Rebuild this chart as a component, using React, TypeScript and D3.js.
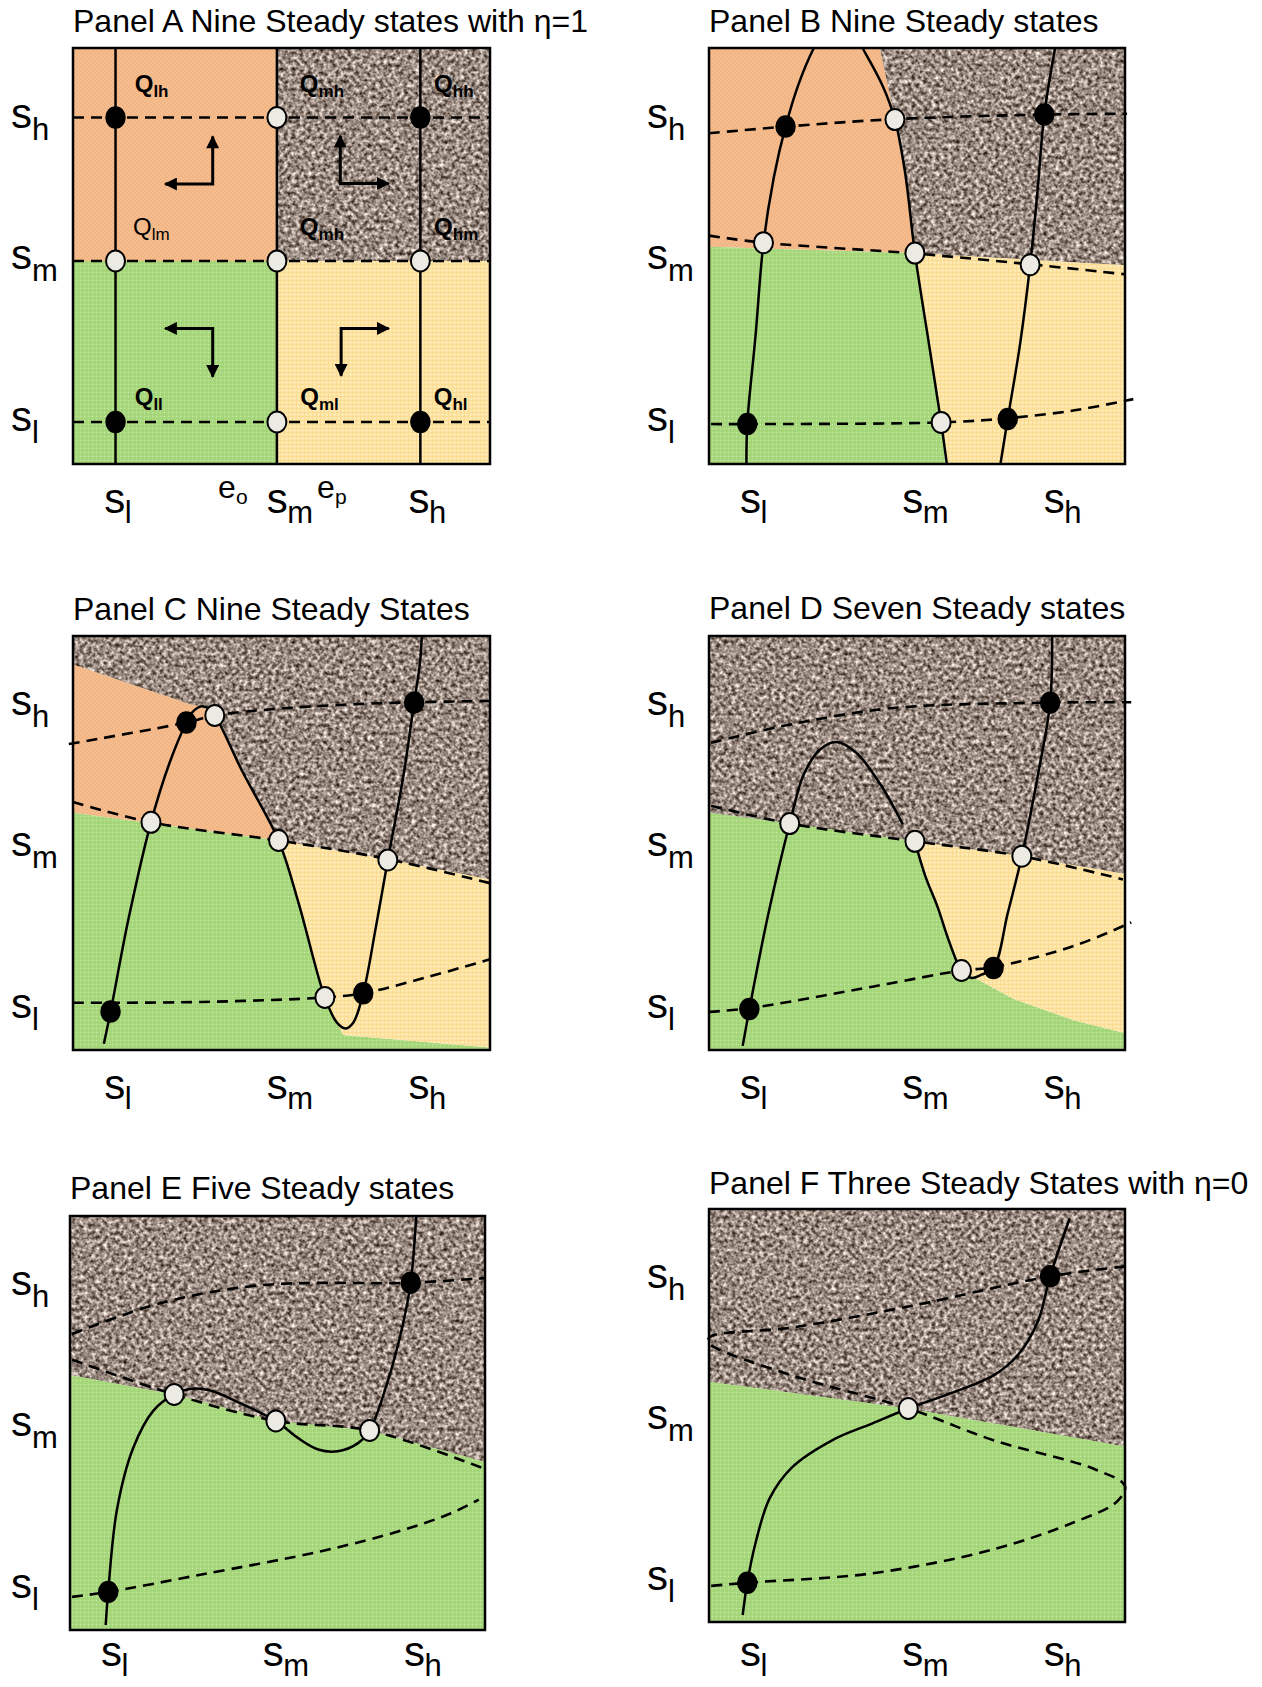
import React from "react";
import * as d3 from "d3";

type P = [number, number];

// ---------- text ----------
const panelTitles = [
  "Panel A Nine Steady states with η=1",
  "Panel B Nine Steady states",
  "Panel C Nine Steady States",
  "Panel D Seven Steady states",
  "Panel E Five Steady states",
  "Panel F Three Steady States with η=0",
];
const tickValues = [10, 49, 83];
const tickSubs = ["l", "m", "h"];

// ---------- Panel A ----------
const aVert = [10.2, 48.9, 83.3];
const aHoriz = [83.3, 48.8, 10.1];
const aOrange: P[] = [[0, 100], [48.9, 100], [48.9, 48.8], [0, 48.8]];
const aBrown: P[] = [[48.9, 100], [100, 100], [100, 48.8], [48.9, 48.8]];
const aGreen: P[] = [[0, 48.8], [48.9, 48.8], [48.9, 0], [0, 0]];
const aYellow: P[] = [[48.9, 48.8], [100, 48.8], [100, 0], [48.9, 0]];
const aStable: P[] = [[10.2, 83.3], [83.3, 83.3], [10.2, 10.1], [83.3, 10.1]];
const aUnstable: P[] = [[48.9, 83.3], [10.2, 48.8], [48.9, 48.8], [83.3, 48.8], [48.9, 10.1]];
const aQNames = ["lh", "mh", "hh", "lm", "mh", "hm", "ll", "ml", "hl"];
const aQBold = [true, true, true, false, true, true, true, true, true];
const aQPos: P[] = [
  [14.8, 89.5], [54.4, 89.5], [86.6, 89.5],
  [14.4, 55.0], [54.4, 55.0], [86.6, 55.0],
  [14.8, 14.2], [54.5, 14.2], [86.5, 14.2],
];
const aArrows: P[][] = [
  [[22.1, 67.3], [33.5, 67.3], [33.5, 78.7]],
  [[64.1, 78.9], [64.1, 67.4], [75.7, 67.4]],
  [[22.1, 32.6], [33.5, 32.6], [33.5, 21.0]],
  [[75.7, 32.6], [64.3, 32.6], [64.3, 21.2]],
];
const aELabels = ["o", "p"];
const aEPos = [34.8, 58.5];

// ---------- Panel B ----------
const bOrange: P[] = [[0, 100], [41.1, 100], [44.3, 85], [45.8, 77], [47.1, 70.3], [48.4, 60], [49.5, 50.7], [0, 52.2]];
const bBrown: P[] = [[41.1, 100], [100, 100], [100, 47.8], [49.5, 50.7], [48.4, 60], [47.1, 70.3], [45.8, 77], [44.3, 85]];
const bGreen: P[] = [[0, 52.2], [49.5, 50.7], [51.2, 39], [52.9, 28.7], [54.4, 19], [55.8, 10], [56.8, 0], [0, 0]];
const bYellow: P[] = [[49.5, 50.7], [100, 47.8], [100, 0], [57.3, 0], [55.8, 10], [54.4, 19], [52.9, 28.7], [51.2, 39]];
const bCurve1: P[] = [
  [9.0, -1], [9.2, 9.6], [11.2, 31], [13.1, 53.2], [15.6, 69], [18.4, 81.1], [21.6, 91.5], [25.2, 100],
  [31, 110], [36.9, 100], [41.7, 91], [44.7, 82.8], [47.1, 70.3], [49.5, 50.7], [52.9, 28.7], [55.8, 10], [57.3, -1],
];
const bCurve2: P[] = [[83.2, 100], [80.6, 84], [79.0, 66], [77.2, 47.9], [74.8, 29], [71.8, 10.8], [69.9, -1]];
const bDash1: P[] = [[0, 79.5], [18.4, 81.1], [44.7, 82.9], [80.6, 84], [100.5, 84.2]];
const bDash2: P[] = [[0, 54.9], [13.1, 53.2], [49.5, 50.6], [77.2, 48], [100, 45.6]];
const bDash3: P[] = [[0.5, 9.6], [9.2, 9.6], [55.8, 10], [71.8, 11], [87.9, 12.9], [102, 15.6]];
const bStable: P[] = [[18.4, 81.1], [80.6, 84], [9.2, 9.6], [71.8, 10.8]];
const bUnstable: P[] = [[44.7, 82.8], [13.1, 53.2], [49.5, 50.7], [77.2, 47.9], [55.8, 10]];

// ---------- Panel C ----------
const cOrange: P[] = [[0, 93.1], [28.4, 83.4], [30.8, 83], [34.2, 80.4], [40.5, 67.5], [49.3, 50.6], [0, 57.3]];
const cBrown: P[] = [[0, 100], [100, 100], [100, 41.2], [75.5, 46], [49.3, 50.6], [40.5, 67.5], [34.2, 80.4], [30.8, 83], [28.4, 83.4], [0, 93.1]];
const cGreen: P[] = [[0, 57.3], [49.3, 50.6], [54.1, 35.5], [60.4, 12.7], [63.3, 6.6], [64.8, 3.6], [100, 0.6], [100, 0], [0, 0]];
const cYellow: P[] = [[49.3, 50.6], [75.5, 46], [100, 41.2], [100, 0.6], [64.8, 3.6], [63.3, 6.6], [60.4, 12.7], [54.1, 35.5]];
const cCurve: P[] = [
  [7.4, 1.5], [9.0, 9.2], [13.4, 32.1], [18.7, 55], [23.1, 69.2], [27.2, 79.1], [28.7, 81.7], [30.8, 83],
  [32.8, 82.3], [34.2, 80.6], [40.5, 67.5], [49.3, 50.6], [54.1, 35.5], [60.4, 12.7], [63.3, 6.6], [65.3, 5.2],
  [67.2, 6.6], [69.6, 13.7], [72.6, 29.5], [75.5, 45.9], [79.3, 66.6], [81.8, 83.9], [83.2, 93.4], [83.7, 101],
];
const cDash1: P[] = [[-1, 73.9], [27.2, 79.1], [34, 80.8], [50, 82.5], [65, 83.4], [81.8, 84], [100, 84.3]];
const cDash2: P[] = [[0, 59.9], [18.7, 55], [49.3, 50.6], [75.5, 46.1], [100, 40.3]];
const cDash3: P[] = [[0, 11.4], [30.8, 11.6], [60.4, 12.7], [69.6, 13.7], [84.2, 17.4], [100, 21.9]];
const cStable: P[] = [[9.0, 9.3], [27.2, 79.1], [69.6, 13.7], [81.8, 83.9]];
const cUnstable: P[] = [[34, 80.8], [18.7, 55], [49.3, 50.6], [60.4, 12.7], [75.5, 45.9]];

// ---------- Panel D ----------
const dBrown: P[] = [[0, 100], [100, 100], [100, 42.5], [75.2, 46.8], [49.5, 50.4], [19.4, 54.7], [0, 57.3]];
const dGreen: P[] = [[0, 57.3], [19.4, 54.7], [49.5, 50.4], [54.9, 34.7], [60.7, 19.2], [63.6, 17.6], [73.3, 12.3], [87.9, 7.1], [100, 4.1], [100, 0], [0, 0]];
const dYellow: P[] = [[49.5, 50.4], [75.2, 46.8], [100, 42.5], [100, 4.1], [87.9, 7.1], [73.3, 12.3], [63.6, 17.6], [60.7, 19.2], [54.9, 34.7]];
const dCurve1: P[] = [[8.1, 1], [9.7, 9.8], [14.1, 32.1], [19.4, 54.7], [22.8, 66.6], [26.7, 72.6], [30.6, 74.4], [35.4, 71.8], [41.3, 64], [46.6, 54.5]];
const dCurve2: P[] = [
  [49.5, 50.4], [52, 42], [54.9, 34.7], [57.8, 26], [60.7, 19.2], [63.1, 17.4], [65.5, 18.2], [68.4, 19.8],
  [71.8, 33], [75.2, 46.8], [79.1, 66.6], [82, 83.9], [82.5, 101],
];
const dDash1: P[] = [[0.5, 74.2], [19.9, 78.7], [44.2, 82.6], [82, 83.9], [101.5, 84]];
const dDash2: P[] = [[0.5, 59], [19.4, 54.7], [49.5, 50.4], [75.2, 46.8], [99.5, 41.2]];
const dDash3: P[] = [[0, 9.2], [9.7, 10.1], [39.3, 15.3], [60.7, 19.2], [68.4, 20], [87.9, 25.2], [101.5, 30.8]];
const dStable: P[] = [[9.7, 9.9], [68.4, 19.8], [82, 83.9]];
const dUnstable: P[] = [[19.4, 54.7], [49.5, 50.4], [60.7, 19.2], [75.2, 46.8]];

// ---------- Panel E ----------
const eBrown: P[] = [[0, 100], [100, 100], [100, 40.6], [72.2, 48.2], [49.6, 50.5], [25.1, 56.9], [0, 61.6]];
const eGreen: P[] = [[0, 61.6], [25.1, 56.9], [49.6, 50.5], [72.2, 48.2], [100, 40.6], [100, 0], [0, 0]];
const eCurve: P[] = [
  [8.6, 1.2], [9.2, 9.2], [11.3, 29], [15.2, 43.9], [20.1, 53], [25.1, 56.9], [28.8, 58.2], [33.6, 57.9],
  [41.4, 54.6], [49.6, 50.5], [54.9, 46.4], [59.8, 43.6], [64.6, 43.2], [69.5, 45.2], [72.2, 48.2],
  [76.3, 59.2], [80.1, 73.3], [82.1, 83.9], [83.5, 101],
];
const eDash1: P[] = [[0.5, 71.5], [22, 79], [46.2, 83.3], [82.1, 83.9], [100, 85]];
const eDash2: P[] = [[0.5, 65.3], [25.1, 56.9], [49.6, 50.5], [72.2, 48.2], [100, 38.9]];
const eDash3: P[] = [[0.5, 8], [9.2, 9.2], [31.7, 13.4], [60.8, 19.1], [80.1, 24.1], [91.8, 28.2], [98.5, 31.5]];
const eStable: P[] = [[9.2, 9.2], [82.1, 83.9]];
const eUnstable: P[] = [[25.1, 56.9], [49.6, 50.5], [72.2, 48.2]];

// ---------- Panel F ----------
const fBrown: P[] = [[0, 100], [100, 100], [100, 42.5], [47.9, 51.7], [0, 58.2]];
const fGreen: P[] = [[0, 58.2], [47.9, 51.7], [100, 42.5], [100, 0], [0, 0]];
const fCurve: P[] = [
  [8.1, 1.7], [9.2, 9.5], [11.2, 19.2], [14.6, 30], [19.9, 37.4], [29.6, 44], [39.3, 48.1], [47.9, 51.7],
  [58.7, 55.6], [68.4, 59.7], [74.3, 64.7], [79.1, 72.9], [82, 83.7], [86.7, 97.7],
];
const fDash: P[] = [
  [100, 86.1], [82, 83.7], [49, 76.6], [19.9, 71.3], [0.5, 69.2], [-0.3, 68.1], [0.5, 67], [19.9, 59.7],
  [47.9, 51.7], [68.4, 44], [92.7, 37], [100, 32.9], [98, 29.1], [87.9, 24.2], [68.4, 17.6], [39.3, 11.8],
  [9.2, 9.5], [0, 8.7],
];
const fStable: P[] = [[9.2, 9.5], [82, 83.7]];
const fUnstable: P[] = [[47.9, 51.7]];

// ---------- layout ----------
const frames = [
  { x: 73, y: 48, w: 417, h: 416, tx: 73, ty: 32, lx: 11, xl: 502 },
  { x: 709, y: 48, w: 416, h: 416, tx: 709, ty: 32, lx: 647, xl: 502 },
  { x: 73, y: 636, w: 417, h: 414, tx: 73, ty: 620, lx: 11, xl: 1088 },
  { x: 709, y: 636, w: 416, h: 414, tx: 709, ty: 619, lx: 647, xl: 1088 },
  { x: 70, y: 1216, w: 415, h: 414, tx: 70, ty: 1199, lx: 11, xl: 1655 },
  { x: 709, y: 1209, w: 416, h: 413, tx: 709, ty: 1194, lx: 647, xl: 1655 },
];
const FONT = "'Liberation Sans', Arial, Helvetica, sans-serif";
const fills: Record<string, string> = {
  orange: "url(#pOrange)",
  green: "url(#pGreen)",
  yellow: "url(#pYellow)",
};

type Region = { kind: string; pts: P[] };

function Panel(props: {
  idx: number;
  regions: Region[];
  solids: P[][];
  dashes: P[][];
  stable: P[];
  unstable: P[];
  extra?: (x: d3.ScaleLinear<number, number>, y: d3.ScaleLinear<number, number>) => React.ReactNode;
}) {
  const { idx, regions, solids, dashes, stable, unstable, extra } = props;
  const f = frames[idx];
  const x = d3.scaleLinear().domain([0, 100]).range([f.x, f.x + f.w]);
  const y = d3.scaleLinear().domain([0, 100]).range([f.y + f.h, f.y]);
  const curve = d3
    .line<P>()
    .x((d) => x(d[0]))
    .y((d) => y(d[1]))
    .curve(d3.curveCatmullRom.alpha(0.5));
  const poly = d3
    .line<P>()
    .x((d) => x(d[0]))
    .y((d) => y(d[1]))
    .curve(d3.curveLinearClosed);
  const clipId = `clip${idx}`;
  return (
    <g>
      <defs>
        <clipPath id={clipId}>
          <rect x={f.x - 16} y={f.y - 1} width={f.w + 32} height={f.h + 2} />
        </clipPath>
      </defs>
      <text x={f.tx} y={f.ty} fontSize={32} fontFamily={FONT} fill="#000">
        {panelTitles[idx]}
      </text>
      {regions.map((r, i) =>
        r.kind === "brown" ? (
          <g key={i}>
            <path d={poly(r.pts) || ""} fill="#a2968b" />
            <path d={poly(r.pts) || ""} fill="#000" filter="url(#granite)" />
          </g>
        ) : (
          <path key={i} d={poly(r.pts) || ""} fill={fills[r.kind]} />
        )
      )}
      <rect x={f.x} y={f.y} width={f.w} height={f.h} fill="none" stroke="#000" strokeWidth={2.5} />
      <g clipPath={`url(#${clipId})`} fill="none" stroke="#000">
        {dashes.map((d, i) => (
          <path key={"d" + i} d={curve(d) || ""} strokeWidth={2.6} strokeDasharray="11,7" />
        ))}
        {solids.map((d, i) => (
          <path key={"s" + i} d={curve(d) || ""} strokeWidth={2.5} />
        ))}
      </g>
      {extra ? extra(x, y) : null}
      {stable.map((p, i) => (
        <ellipse key={"b" + i} cx={x(p[0])} cy={y(p[1])} rx={9.5} ry={10.5} fill="#000" stroke="#000" strokeWidth={1.5} />
      ))}
      {unstable.map((p, i) => (
        <ellipse key={"w" + i} cx={x(p[0])} cy={y(p[1])} rx={9.5} ry={10.5} fill="#ecebe3" stroke="#000" strokeWidth={2} />
      ))}
      {tickValues.map((v, i) => (
        <g key={"xt" + i} fontFamily={FONT} fill="#000">
          <text x={x(v)} y={f.xl + 11} fontSize={42} textAnchor="middle">s</text>
          <text x={x(v) + 10} y={f.xl + 21} fontSize={31}>{tickSubs[i]}</text>
        </g>
      ))}
      {tickValues.map((v, i) => (
        <g key={"yt" + i} fontFamily={FONT} fill="#000">
          <text x={f.lx} y={y(v) + 9} fontSize={42}>s</text>
          <text x={f.lx + 21} y={y(v) + 21} fontSize={31}>{tickSubs[i]}</text>
        </g>
      ))}
    </g>
  );
}

export default function App() {
  return (
    <svg
      width={1262}
      height={1687}
      viewBox="0 0 1262 1687"
      style={{ position: "absolute", left: 0, top: 0, background: "#fff" }}
    >
      <defs>
        <pattern id="pOrange" patternUnits="userSpaceOnUse" width={4} height={4}>
          <rect width={4} height={4} fill="#f2b585" />
          <rect width={2} height={2} fill="#f5bc8e" />
          <rect x={2} y={2} width={2} height={2} fill="#f5bc8e" />
        </pattern>
        <pattern id="pGreen" patternUnits="userSpaceOnUse" width={4} height={4}>
          <rect width={4} height={4} fill="#a4d679" />
          <rect width={4} height={1} fill="#abda82" />
          <rect width={1} height={4} fill="#abda82" />
          <rect width={1} height={1} fill="#c8eaa8" />
        </pattern>
        <pattern id="pYellow" patternUnits="userSpaceOnUse" width={4} height={4}>
          <rect width={4} height={4} fill="#fde6aa" />
          <rect width={4} height={1} fill="#fcdb92" />
          <rect width={1} height={4} fill="#fcdb92" />
          <rect x={2} y={2} width={1} height={1} fill="#fff4d6" />
        </pattern>
        <filter
          id="granite"
          filterUnits="userSpaceOnUse"
          x={0}
          y={0}
          width={1262}
          height={1687}
          colorInterpolationFilters="sRGB"
        >
          <feTurbulence type="fractalNoise" baseFrequency={0.25} numOctaves={3} seed={7} result="noise" />
          <feColorMatrix
            in="noise"
            type="matrix"
            values="1.3 0 0 0 -0.05  1.3 0 0 0 -0.105  1.3 0 0 0 -0.145  0 0 0 0 1"
            result="col"
          />
          <feComposite in="col" in2="SourceAlpha" operator="in" />
        </filter>
        <marker
          id="ah"
          viewBox="0 0 10 10"
          refX={9}
          refY={5}
          markerWidth={15}
          markerHeight={13}
          markerUnits="userSpaceOnUse"
          orient="auto-start-reverse"
        >
          <path d="M0,0 L10,5 L0,10 z" fill="#000" />
        </marker>
      </defs>

      <Panel
        idx={0}
        regions={[
          { kind: "orange", pts: aOrange },
          { kind: "brown", pts: aBrown },
          { kind: "green", pts: aGreen },
          { kind: "yellow", pts: aYellow },
        ]}
        solids={aVert.map((v) => [[v, 0], [v, 100]] as P[])}
        dashes={aHoriz.map((v) => [[0, v], [100, v]] as P[])}
        stable={aStable}
        unstable={aUnstable}
        extra={(x, y) => (
          <g fontFamily={FONT} fill="#000">
            {aArrows.map((a, i) => (
              <polyline
                key={"ar" + i}
                points={a.map((p) => `${x(p[0])},${y(p[1])}`).join(" ")}
                fill="none"
                stroke="#000"
                strokeWidth={3}
                strokeLinejoin="miter"
                markerStart="url(#ah)"
                markerEnd="url(#ah)"
              />
            ))}
            {aQNames.map((n, i) => (
              <text
                key={"q" + i}
                x={x(aQPos[i][0])}
                y={y(aQPos[i][1])}
                fontSize={24}
                fontWeight={aQBold[i] ? "bold" : "normal"}
              >
                Q
                <tspan fontSize={17} dy={5}>{n}</tspan>
              </text>
            ))}
            {aELabels.map((s, i) => (
              <g key={"e" + i}>
                <text x={x(aEPos[i])} y={y(0) + 34} fontSize={32}>e</text>
                <text x={x(aEPos[i]) + 18} y={y(0) + 40} fontSize={21}>{s}</text>
              </g>
            ))}
          </g>
        )}
      />
      <Panel
        idx={1}
        regions={[
          { kind: "orange", pts: bOrange },
          { kind: "brown", pts: bBrown },
          { kind: "green", pts: bGreen },
          { kind: "yellow", pts: bYellow },
        ]}
        solids={[bCurve1, bCurve2]}
        dashes={[bDash1, bDash2, bDash3]}
        stable={bStable}
        unstable={bUnstable}
      />
      <Panel
        idx={2}
        regions={[
          { kind: "brown", pts: cBrown },
          { kind: "orange", pts: cOrange },
          { kind: "green", pts: cGreen },
          { kind: "yellow", pts: cYellow },
        ]}
        solids={[cCurve]}
        dashes={[cDash1, cDash2, cDash3]}
        stable={cStable}
        unstable={cUnstable}
      />
      <Panel
        idx={3}
        regions={[
          { kind: "brown", pts: dBrown },
          { kind: "green", pts: dGreen },
          { kind: "yellow", pts: dYellow },
        ]}
        solids={[dCurve1, dCurve2]}
        dashes={[dDash1, dDash2, dDash3]}
        stable={dStable}
        unstable={dUnstable}
      />
      <Panel
        idx={4}
        regions={[
          { kind: "brown", pts: eBrown },
          { kind: "green", pts: eGreen },
        ]}
        solids={[eCurve]}
        dashes={[eDash1, eDash2, eDash3]}
        stable={eStable}
        unstable={eUnstable}
      />
      <Panel
        idx={5}
        regions={[
          { kind: "brown", pts: fBrown },
          { kind: "green", pts: fGreen },
        ]}
        solids={[fCurve]}
        dashes={[fDash]}
        stable={fStable}
        unstable={fUnstable}
      />
    </svg>
  );
}
